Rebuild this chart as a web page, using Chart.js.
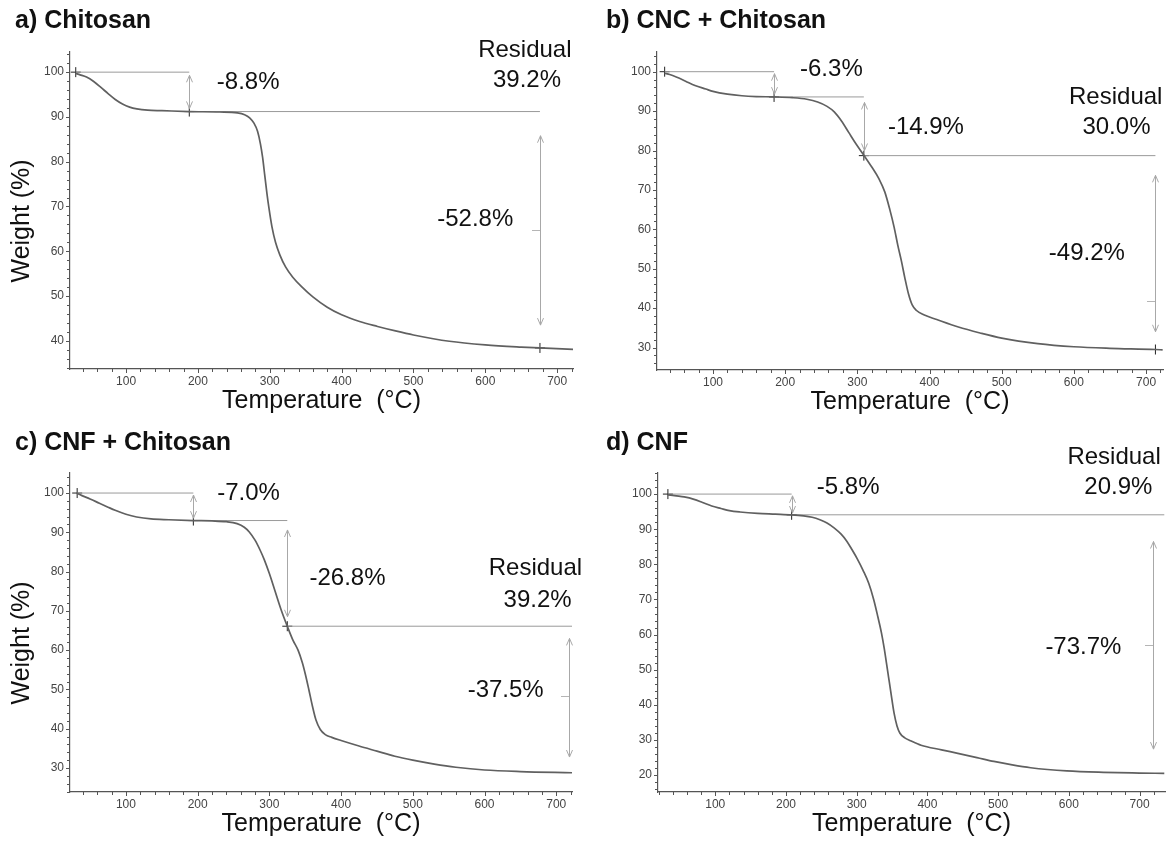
<!DOCTYPE html>
<html>
<head>
<meta charset="utf-8">
<script src="https://cdn.jsdelivr.net/npm/chart.js@4.4.0/dist/chart.umd.min.js"></script>
<style>
body{margin:0;background:#fff;width:1171px;height:843px;position:relative;overflow:hidden;}
.panel{position:absolute;}
</style>
</head>
<body>
<div class="panel" style="left:0;top:0;width:585px;height:420px"><canvas id="chartA"></canvas></div>
<div class="panel" style="left:590px;top:0;width:581px;height:420px"><canvas id="chartB"></canvas></div>
<div class="panel" style="left:0;top:420px;width:585px;height:423px"><canvas id="chartC"></canvas></div>
<div class="panel" style="left:590px;top:420px;width:581px;height:423px"><canvas id="chartD"></canvas></div>
<script>
// DATA - TGA curves (temperature in °C, weight in %)

// a) Chitosan
let tempA   = [30,36,45,55,65,75,85,95,105,115,130,150,188,230,255,265,272,278,283,287,290,293,296,299,303,308,314,322,332,345,360,380,400,425,450,475,500,550,600,650,676,722];
let weightA = [99.7,99.4,98.9,97.9,96.6,95.2,93.9,92.9,92.2,91.8,91.5,91.4,91.2,91.1,90.9,90.5,89.8,88.6,86.8,84.0,81.0,77.0,73.0,69.5,65.5,62.0,59.2,56.5,54.2,52.0,49.8,47.5,45.8,44.3,43.2,42.2,41.3,39.9,39.1,38.6,38.4,38.1];

// b) CNC + Chitosan
let tempB   = [33,40,50,62,75,90,100,120,140,160,185,210,230,245,258,268,278,288,298,309,320,330,338,345,351,356,361,366,371,376,382,392,410,440,470,500,550,600,650,713,723];
let weightB = [99.6,99.3,98.6,97.6,96.5,95.6,95.0,94.3,93.9,93.7,93.6,93.4,93.0,92.3,91.2,89.8,87.5,84.6,81.7,78.8,75.8,72.8,69.5,65.0,60.5,56.0,52.0,47.5,43.5,40.8,39.4,38.3,37.1,35.2,33.7,32.4,31.0,30.2,29.8,29.5,29.4];

// c) CNF + Chitosan
let tempC   = [32,38,50,63,75,85,100,115,135,160,194,220,240,255,265,272,280,287,293,300,308,316,325,333,340,346,350,355,360,365,371,378,387,400,425,450,475,500,530,560,600,650,722];
let weightC = [99.9,99.4,98.5,97.4,96.4,95.6,94.6,93.9,93.4,93.2,93.0,92.9,92.7,92.2,91.3,90.1,88.0,85.5,83.0,79.5,75.0,70.5,66.1,62.5,60.0,56.8,54.0,50.0,45.8,42.2,39.8,38.5,37.8,37.0,35.6,34.3,33.0,32.0,31.0,30.2,29.5,29.1,28.8];

// d) CNF
let tempD   = [33,45,56,70,82,95,108,120,135,160,185,208,225,237,248,258,268,278,286,293,301,309,317,324,330,335,339,342,345,348,353,357,361,368,376,391,420,443,470,494,520,546,597,649,700,735];
let weightD = [99.8,99.5,99.2,98.5,97.6,96.6,95.9,95.3,94.9,94.5,94.3,94.1,93.8,93.4,92.7,91.8,90.4,88.6,86.6,84.3,81.5,78.3,74.6,70.0,65.0,60.5,56.0,52.0,48.0,44.0,37.5,34.0,32.0,30.6,29.8,28.5,27.2,26.2,25.0,23.9,22.9,22.1,21.2,20.8,20.6,20.5];

// TICK LABELS
let xTicks  = [100,200,300,400,500,600,700];
let yTicksA = [40,50,60,70,80,90,100];
let yTicksB = [30,40,50,60,70,80,90,100];
let yTicksC = [30,40,50,60,70,80,90,100];
let yTicksD = [20,30,40,50,60,70,80,90,100];

// STEP LINES [xStart, xEnd, weight]
let stepsA = [[30,188,100],[188,676,91.2]];
let stepsB = [[33,184.6,100],[184.6,309,93.6],[309,713,78.7]];
let stepsC = [[32,194,100],[194,325,93.0],[325,722,66.1]];
let stepsD = [[33,208,100],[208,735,94.1]];

// ONSET MARKERS [temp, weight]
let marksA = [[30,100],[188,91.2],[676,38.4]];
let marksB = [[33,100],[184.6,93.6],[309,78.7],[713,29.5]];
let marksC = [[32,100],[194,93.0],[325,66.1]];
let marksD = [[33,100],[208,94.1]];

// DOUBLE ARROWS [temp, weightTop, weightBottom]
let arrowsA = [[188,99.3,91.9],[676,85.8,43.5]];
let arrowsB = [[184.6,99.5,94.3],[309,92.2,80.0],[713,73.7,34.0]];
let arrowsC = [[194,99.5,93.6],[325,90.6,68.5],[718,63.0,32.8]];
let arrowsD = [[208,99.5,94.6],[719.6,86.5,27.4]];

// SMALL MID DASHES ON THE LONG ARROWS [temp, weight]
let dashesA = [[676,64.8]];
let dashesB = [[713,41.8]];
let dashesC = [[718,48.3]];
let dashesD = [[719.6,57.1]];

// TEXT LABELS [text, temp, weight]
let labelsA = [['-8.8%',270,97.8],['Residual',655,104.8],['39.2%',658,98.1],['-52.8%',586,67.2]];
let labelsB = [['-6.3%',264,100.7],['-14.9%',395,85.9],['Residual',658,93.5],['30.0%',659,85.9],['-49.2%',618,53.9]];
let labelsC = [['-7.0%',271,100],['-26.8%',409,78.3],['Residual',671,80.9],['39.2%',674,72.8],['-37.5%',629.5,49.8]];
let labelsD = [['-5.8%',288,101.9],['Residual',664,110.4],['20.9%',670,101.9],['-73.7%',620.6,56.5]];

const FONT = '"Liberation Sans", Arial, sans-serif';

// PLUGIN : minor ticks, arrows, texts and panel title
const tgaPlugin = {
    id: 'tga',
    afterDraw(chart, args, o) {
        const ctx = chart.ctx;
        const xs = chart.scales.x, ys = chart.scales.y;
        ctx.save();
        ctx.strokeStyle = '#555';
        ctx.lineWidth = 1;
        // ticks x
        for (let v = Math.ceil(xs.min / 20) * 20; v <= xs.max; v += 20) {
            let px = Math.round(xs.getPixelForValue(v)) + 0.5;
            let len = v % 100 === 0 ? 4 : 3;
            ctx.beginPath(); ctx.moveTo(px, xs.top); ctx.lineTo(px, xs.top + len); ctx.stroke();
        }
        // ticks y
        for (let v = Math.ceil(ys.min / 2) * 2; v <= ys.max; v += 2) {
            let py = Math.round(ys.getPixelForValue(v)) + 0.5;
            let len = v % 10 === 0 ? 4 : 3;
            ctx.beginPath(); ctx.moveTo(ys.right, py); ctx.lineTo(ys.right - len, py); ctx.stroke();
        }
        // arrows
        ctx.strokeStyle = '#a8a8a8';
        o.arrows.forEach(a => {
            let px = Math.round(xs.getPixelForValue(a[0])) + 0.5;
            let y1 = ys.getPixelForValue(a[1]);
            let y2 = ys.getPixelForValue(a[2]);
            ctx.beginPath(); ctx.moveTo(px, y1); ctx.lineTo(px, y2); ctx.stroke();
            ctx.beginPath(); ctx.moveTo(px - 3, y1 + 7); ctx.lineTo(px, y1); ctx.lineTo(px + 3, y1 + 7); ctx.stroke();
            ctx.beginPath(); ctx.moveTo(px - 3, y2 - 7); ctx.lineTo(px, y2); ctx.lineTo(px + 3, y2 - 7); ctx.stroke();
        });
        // mid dashes
        ctx.strokeStyle = '#b5b5b5';
        o.dashes.forEach(d => {
            let px = Math.round(xs.getPixelForValue(d[0]));
            let py = Math.round(ys.getPixelForValue(d[1])) + 0.5;
            ctx.beginPath(); ctx.moveTo(px - 8, py); ctx.lineTo(px, py); ctx.stroke();
        });
        // texts
        ctx.fillStyle = '#111';
        ctx.font = '24px ' + FONT;
        ctx.textAlign = 'center';
        ctx.textBaseline = 'middle';
        o.labels.forEach(l => {
            ctx.fillText(l[0], xs.getPixelForValue(l[1]), ys.getPixelForValue(l[2]));
        });
        // panel title
        ctx.font = 'bold 25px ' + FONT;
        ctx.textAlign = 'left';
        ctx.fillText(o.title, o.titleX, o.titleY);
        ctx.restore();
    }
};

function toPoints(xs, ys) {
    return xs.map((x, i) => ({x: x, y: ys[i]}));
}

function buildPanel(id, p) {
    let datasets = [{
        data: toPoints(p.temp, p.weight),
        borderColor: '#606060',
        borderWidth: 1.7,
        pointRadius: 0,
        cubicInterpolationMode: 'monotone',
        fill: false
    }];
    p.steps.forEach(s => {
        datasets.push({
            data: [{x: s[0], y: s[2]}, {x: s[1], y: s[2]}],
            borderColor: '#9a9a9a',
            borderWidth: 1,
            pointRadius: 0,
            fill: false
        });
    });
    datasets.push({
        data: p.marks.map(m => ({x: m[0], y: m[1]})),
        showLine: false,
        pointStyle: 'cross',
        pointRadius: 5,
        borderColor: '#222',
        borderWidth: 1
    });

    new Chart(document.getElementById(id), {
        type: 'line',
        data: {datasets: datasets},
        plugins: [tgaPlugin],
        options: {
            responsive: true,
            maintainAspectRatio: false,
            animation: false,
            layout: {padding: p.pad},
            plugins: {
                legend: {display: false},
                tooltip: {enabled: false},
                tga: {arrows: p.arrows, dashes: p.dashes, labels: p.labels, title: p.title, titleX: p.titleX, titleY: p.titleY}
            },
            scales: {
                x: {
                    type: 'linear',
                    min: p.xMin, max: p.xMax,
                    afterBuildTicks: s => { s.ticks = xTicks.map(v => ({value: v})); },
                    afterFit: s => { s.height = 47; },
                    grid: {display: false, drawTicks: false},
                    border: {display: true, color: '#555', width: 1.2},
                    ticks: {autoSkip: false, maxRotation: 0, padding: 5, color: '#444', font: {family: FONT, size: 12}},
                    title: {display: true, text: 'Temperature  (°C)', color: '#111', padding: 0, font: {family: FONT, size: 25}}
                },
                y: {
                    min: p.yMin, max: p.yMax,
                    afterBuildTicks: s => { s.ticks = p.yTicks.map(v => ({value: v})); },
                    afterFit: s => { s.width = p.yWidth; },
                    grid: {display: false, drawTicks: false},
                    border: {display: true, color: '#555', width: 1.2},
                    ticks: {autoSkip: false, padding: 6, color: '#444', font: {family: FONT, size: 12}},
                    // trailing spaces push the rotated title a little lower, as in the figure
                    title: {display: p.yTitle, text: 'Weight (%)   ', color: '#111', padding: {top: 1, bottom: 0}, font: {family: FONT, size: 25}}
                }
            }
        }
    });
}

// BUILD ALL PANELS
buildPanel('chartA', {
    temp: tempA, weight: weightA, steps: stepsA, marks: marksA, arrows: arrowsA, dashes: dashesA, labels: labelsA, yTicks: yTicksA,
    title: 'a) Chitosan', titleX: 15, titleY: 21,
    xMin: 22, xMax: 722, yMin: 33.7, yMax: 104.5,
    pad: {left: 6, top: 52, right: 12, bottom: 4}, yWidth: 64, yTitle: true
});
buildPanel('chartB', {
    temp: tempB, weight: weightB, steps: stepsB, marks: marksB, arrows: arrowsB, dashes: dashesB, labels: labelsB, yTicks: yTicksB,
    title: 'b) CNC + Chitosan', titleX: 16, titleY: 21,
    xMin: 22.4, xMax: 723.5, yMin: 24.3, yMax: 105,
    pad: {left: 6, top: 52, right: 8, bottom: 3}, yWidth: 61, yTitle: false
});
buildPanel('chartC', {
    temp: tempC, weight: weightC, steps: stepsC, marks: marksC, arrows: arrowsC, dashes: dashesC, labels: labelsC, yTicks: yTicksC,
    title: 'c) CNF + Chitosan', titleX: 15, titleY: 23,
    xMin: 22, xMax: 722, yMin: 23.9, yMax: 105.1,
    pad: {left: 6, top: 53, right: 13, bottom: 4}, yWidth: 64, yTitle: true
});
buildPanel('chartD', {
    temp: tempD, weight: weightD, steps: stepsD, marks: marksD, arrows: arrowsD, dashes: dashesD, labels: labelsD, yTicks: yTicksD,
    title: 'd) CNF', titleX: 16, titleY: 23,
    xMin: 19, xMax: 736, yMin: 15.2, yMax: 106,
    pad: {left: 6, top: 53, right: 0, bottom: 4}, yWidth: 62, yTitle: false
});
</script>
</body>
</html>
